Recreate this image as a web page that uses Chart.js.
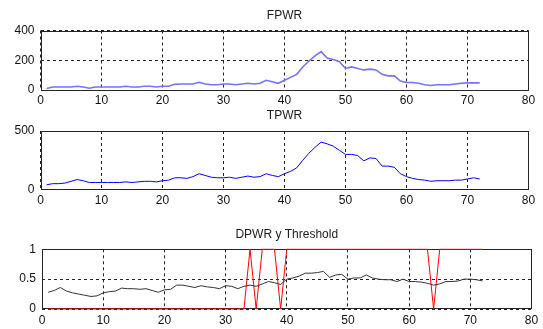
<!DOCTYPE html>
<html>
<head>
<meta charset="utf-8">
<script src="https://cdn.jsdelivr.net/npm/chart.js@4"></script>
<style>
  html, body { margin: 0; padding: 0; background: #fff; }
  #wrap { position: relative; width: 543px; height: 329px; overflow: hidden; }
  .sub { position: absolute; left: 0; width: 543px; }
</style>
</head>
<body>
<div id="wrap">
  <div class="sub" style="top:0;height:110px"><canvas id="fpwr"></canvas></div>
  <div class="sub" style="top:110px;height:100px"><canvas id="tpwr"></canvas></div>
  <div class="sub" style="top:210px;height:119px"><canvas id="dpwr"></canvas></div>
</div>
<script>
// Sample index (x axis)
const samples = [1,2,3,4,5,6,7,8,9,10,11,12,13,14,15,16,17,18,19,20,21,22,23,24,
  25,26,27,28,29,30,31,32,33,34,35,36,37,38,39,40,41,42,43,44,45,46,47,48,
  49,50,51,52,53,54,55,56,57,58,59,60,61,62,63,64,65,66,67,68,69,70,71,72];

// Series
const fpwr = [10,20,20,20,20,25,20,12,20,20,20,20,20,25,20,20,25,25,20,25,25,38,40,40,
  40,52,40,35,35,40,40,35,40,45,40,45,65,55,45,65,85,105,155,195,230,258,215,205,
  190,145,155,145,135,140,135,105,95,95,60,50,50,45,35,30,35,35,35,40,45,48,48,48];

const tpwr = [40,50,50,55,70,85,75,60,60,60,60,60,60,65,60,65,70,70,65,75,80,100,100,95,
  110,135,120,105,100,100,105,95,105,115,105,110,135,120,110,135,155,185,250,310,360,405,390,370,
  335,300,300,290,245,270,265,200,200,190,135,110,95,85,80,70,75,75,75,80,80,90,100,90];

const dpwr = [0.28,0.31,0.36,0.30,0.27,0.25,0.23,0.21,0.22,0.27,0.29,0.30,0.35,0.34,0.34,0.33,0.34,0.31,0.28,0.32,0.33,0.40,0.40,0.38,
  0.36,0.39,0.37,0.36,0.34,0.39,0.38,0.34,0.38,0.40,0.38,0.42,0.46,0.44,0.41,0.50,0.52,0.55,0.60,0.60,0.61,0.63,0.53,0.57,
  0.58,0.50,0.52,0.52,0.57,0.52,0.50,0.49,0.49,0.46,0.50,0.46,0.46,0.45,0.43,0.40,0.42,0.46,0.46,0.47,0.50,0.50,0.49,0.47];

const threshold = [0,0,0,0,0,0,0,0,0,0,0,0,0,0,0,0,0,0,0,0,0,0,0,0,
  0,0,0,0,0,0,0,0,0,1,0,1,1,1,0,1,1,1,1,1,1,1,1,1,
  1,1,1,1,1,1,1,1,1,1,1,1,1,1,1,0,1,1,1,1,1,1,1,1];

// Tick labels
const xTicks = [0, 10, 20, 30, 40, 50, 60, 70, 80];
const fpwrTicks = [0, 200, 400];
const tpwrTicks = [0, 500];
const dpwrTicks = [0, 0.5, 1];

const FONT = { family: "'Liberation Sans', Arial, sans-serif", size: 12 };

function pts(ys) {
  return samples.map((x, i) => ({ x: x, y: ys[i] }));
}

// MATLAB style box around the axes + title above it
const boxPlugin = {
  id: 'box',
  beforeDatasetsDraw(chart) {
    const a = chart.chartArea, ctx = chart.ctx;
    ctx.save();
    ctx.strokeStyle = '#262626';
    ctx.lineWidth = 1;
    ctx.strokeRect(Math.round(a.left) + 0.5, Math.round(a.top) + 0.5,
      Math.round(a.right - a.left) - 1, Math.round(a.bottom - a.top) - 1);
    ctx.restore();
  },
  afterDraw(chart, args, opts) {
    const a = chart.chartArea, ctx = chart.ctx;
    ctx.save();
    ctx.font = FONT.size + 'px ' + FONT.family;
    ctx.fillStyle = '#1a1a1a';
    ctx.textAlign = 'center';
    ctx.textBaseline = 'middle';
    ctx.fillText(opts.text, (a.left + a.right) / 2, a.top - 15);
    ctx.restore();
  }
};

function makeChart(id, cfg) {
  const tickSet = (vals) => (scale) => { scale.ticks = vals.map(v => ({ value: v })); };
  return new Chart(document.getElementById(id), {
    type: 'line',
    data: { datasets: cfg.datasets },
    plugins: [boxPlugin],
    options: {
      responsive: true,
      maintainAspectRatio: false,
      animation: false,
      layout: { padding: { top: cfg.top, right: cfg.right, bottom: 0, left: 0 } },
      elements: { point: { radius: 0 }, line: { tension: 0 } },
      plugins: { legend: { display: false }, tooltip: { enabled: false }, box: { text: cfg.title } },
      scales: {
        x: {
          type: 'linear', min: 0, max: 80,
          afterBuildTicks: tickSet(xTicks),
          afterFit: s => { s.height = cfg.xh; },
          grid: { color: '#222', drawTicks: false },
          border: { display: false, dash: [3, 3] },
          ticks: { font: FONT, color: '#111', padding: cfg.xpad, maxRotation: 0, callback: v => String(v) }
        },
        y: {
          type: 'linear', min: cfg.yTicks[0], max: cfg.yTicks[cfg.yTicks.length - 1],
          afterBuildTicks: tickSet(cfg.yTicks),
          afterFit: s => { s.width = cfg.left; },
          grid: { color: '#222', drawTicks: false, display: cfg.yGrid },
          border: { display: false, dash: [3, 3] },
          ticks: { font: FONT, color: '#111', padding: 6, callback: v => String(v) }
        }
      }
    }
  });
}

makeChart('fpwr', {
  title: 'FPWR', top: 30.5, right: 14.5, left: 40.5, xh: 20, xpad: 3, yTicks: fpwrTicks, yGrid: true,
  datasets: [{ data: pts(fpwr), borderColor: '#7373ff', borderWidth: 1.6 }]
});

makeChart('tpwr', {
  title: 'TPWR', top: 21, right: 14.5, left: 40.5, xh: 20.5, xpad: 4, yTicks: tpwrTicks, yGrid: false,
  datasets: [{ data: pts(tpwr), borderColor: '#0000ff', borderWidth: 1 }]
});

makeChart('dpwr', {
  title: 'DPWR y Threshold', top: 39.3, right: 11.5, left: 42, xh: 20, xpad: 4, yTicks: dpwrTicks, yGrid: true,
  datasets: [
    { data: pts(dpwr), borderColor: '#333333', borderWidth: 1 },
    { data: pts(threshold), borderColor: '#ff0000', borderWidth: 1, clip: false }
  ]
});
</script>
</body>
</html>
